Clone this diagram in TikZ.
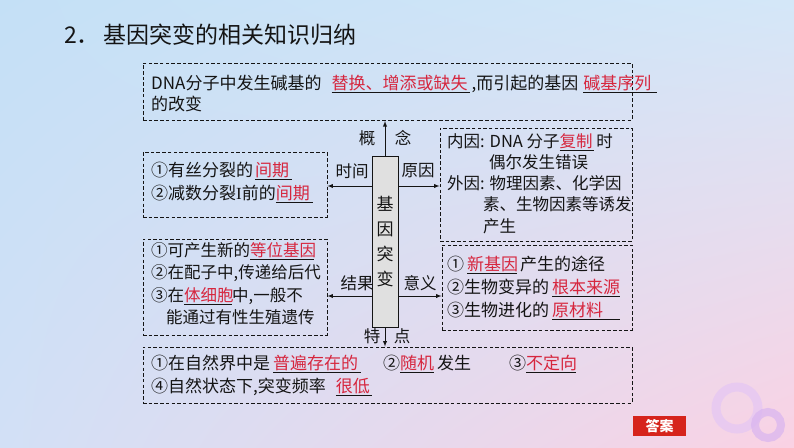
\documentclass[tikz,border=0pt]{standalone}
\usepackage{fontspec}
\setmainfont{Noto Sans CJK SC}
\newfontfamily\romanI{Liberation Serif}
\usepackage{xcolor}
\usetikzlibrary{arrows,shadings}
\definecolor{ansred}{RGB}{214,38,62}
\definecolor{btnred}{RGB}{214,36,28}
\definecolor{inkblack}{RGB}{20,20,20}
\definecolor{bgtl}{RGB}{196,224,246}
\definecolor{bgtr}{RGB}{212,231,248}
\definecolor{bgbl}{RGB}{210,224,246}
\definecolor{bgbr}{RGB}{250,210,228}
\definecolor{ringa}{RGB}{228,198,244}
\definecolor{ringb}{RGB}{216,180,240}
\tikzset{
	dashbox/.style={draw=inkblack, line width=0.9pt, dash pattern=on 3.5pt off 2.2pt},
	txt/.style={anchor=north west, align=left, inner sep=0pt, text=inkblack,
			font=\fontsize{17}{22.5}\selectfont},
	lbl/.style={inner sep=0pt, text=inkblack, font=\fontsize{16.5}{16.5}\selectfont},
	link/.style={-latex, line width=0.9pt, draw=inkblack}
}
\newcommand{\fillin}[2]{\underline{\makebox[#1pt][l]{\textcolor{ansred}{#2}}}}

\begin{document}
\begin{tikzpicture}[x=1pt,y=-1pt]
	\useasboundingbox (0,0) rectangle (794,447);

	% Define the background
	\shade[upper left=bgtl, upper right=bgtr, lower left=bgbl, lower right=bgbr]
		(0,0) rectangle (794,447);
	\draw[line width=9pt, color=ringa, opacity=0.7] (737,408) circle (21);
	\draw[line width=8pt, color=ringb, opacity=0.7] (768,425) circle (13);

	\node[anchor=west, inner sep=0pt, text=inkblack, font=\fontsize{23}{23}\selectfont] (title) at (64,35)
		{2．\,基因突变的相关知识归纳};

	% Define the boxes
	\node[dashbox, minimum width=489, minimum height=57] (concept box) at (387.5,91.5) {};
	\node[dashbox, minimum width=184, minimum height=65] (time box) at (235,184.5) {};
	\node[dashbox, minimum width=192, minimum height=113] (cause box) at (536,184.5) {};
	\node[dashbox, minimum width=184, minimum height=96] (result box) at (235,287) {};
	\node[dashbox, minimum width=190, minimum height=85] (meaning box) at (537,287.5) {};
	\node[dashbox, minimum width=489, minimum height=56] (feature box) at (387.5,375) {};

	\node[txt, font=\fontsize{17}{20.5}\selectfont] (concept text) at (151,75)
		{DNA分子中发生碱基的\hspace{10pt}\fillin{138}{替换、增添或缺失}\hspace{2pt},而引起的基因\hspace{5pt}\fillin{74}{碱基序列}\\的改变};
	\node[txt] (time text) at (151,162)
		{①有丝分裂的\hspace{2pt}\fillin{37}{间期}\\②减数分裂{\romanI I}前的\fillin{37}{间期}};
	\node[txt, font=\fontsize{16.5}{21.3}\selectfont] (cause text) at (447,133)
		{内因: DNA 分子\fillin{34}{复制}\,时\\\hspace*{42pt}偶尔发生错误\\外因: 物理因素、化学因\\\hspace*{36pt}素、生物因素等诱发\\\hspace*{36pt}产生};
	\node[txt, font=\fontsize{16.5}{22.5}\selectfont] (result text) at (151,242)
		{①可产生新的\fillin{64}{等位基因}\\②在配子中,传递给后代\\③在\fillin{48}{体细胞}中,一般不\\\hspace*{15pt}能通过有性生殖遗传};
	\node[txt, font=\fontsize{17}{23}\selectfont] (meaning text) at (447,256)
		{①\hspace{3pt}\fillin{50}{新基因}\,产生的途径\\②生物变异的\hspace{3pt}\fillin{68}{根本来源}\\③生物进化的\hspace{3pt}\fillin{68}{原材料}};
	\node[txt, font=\fontsize{17}{23}\selectfont] (feature text) at (151,355)
		{①在自然界中是\hspace{3pt}\fillin{88}{普遍存在的}\hspace{22pt}②\fillin{34}{随机}\,发生\hspace{38pt}③\fillin{50}{不定向}\\④自然状态下,突变频率\hspace{10pt}\fillin{36}{很低}};

	% Define the centre and the arrows
	\node[draw=inkblack, line width=0.9pt, fill=black!12, minimum width=26, minimum height=171, inner sep=0pt,
		align=center, font=\fontsize{17}{25}\selectfont, text=inkblack] (gene) at (385,241.5)
		{基\\因\\突\\变};
	\coordinate (concept end) at (385,121);
	\coordinate (upper row) at (0,186);
	\coordinate (lower row) at (0,296);

	\draw[link] (gene.north) -- (concept end);
	\draw[link] (gene.south) -- (gene.south |- feature box.north);
	\draw[link] (gene.west |- upper row) -- (time box.east |- upper row);
	\draw[link] (gene.east |- upper row) -- (cause box.west |- upper row);
	\draw[link] (gene.west |- lower row) -- (result box.east |- lower row);
	\draw[link] (gene.east |- lower row) -- (meaning box.west |- lower row);

	\node[lbl] (concept left) at (367,138) {概};
	\node[lbl] (concept right) at (403,138) {念};
	\node[lbl] (time label) at (352,171) {时间};
	\node[lbl] (cause label) at (418,171) {原因};
	\node[lbl] (result label) at (357,283) {结果};
	\node[lbl] (meaning label) at (420,283) {意义};
	\node[lbl] (feature left) at (372,336) {特};
	\node[lbl] (feature right) at (402,336) {点};

	\node[fill=btnred, text=white, font=\fontsize{14}{14}\selectfont\bfseries, minimum width=53, minimum height=20,
		inner sep=0pt] (answer) at (659.5,426) {答案};

\end{tikzpicture}
\end{document}
